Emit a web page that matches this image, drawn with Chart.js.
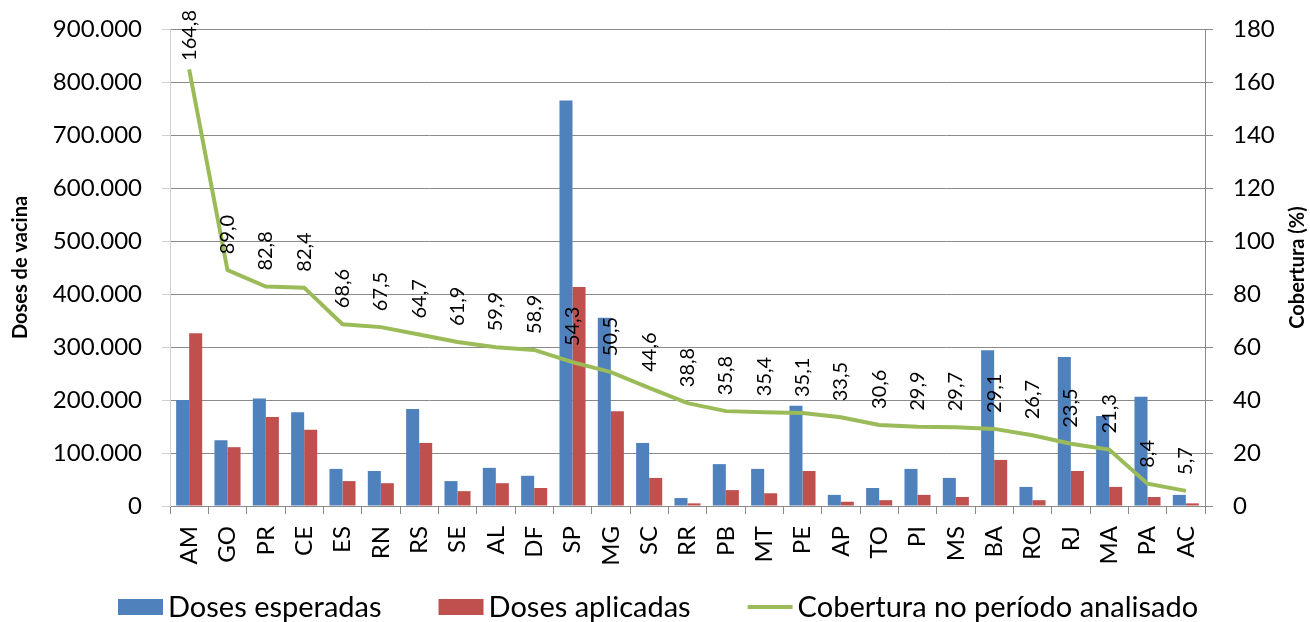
<!DOCTYPE html>
<html>
<head>
<meta charset="utf-8">
<script src="https://cdn.jsdelivr.net/npm/chart.js@4.4.1/dist/chart.umd.min.js"></script>
<style>
  html, body { margin: 0; padding: 0; background: #fff; }
  #wrap { width: 1310px; height: 622px; }
</style>
</head>
<body>
<div id="wrap"><canvas id="vacChart" width="1310" height="622"></canvas></div>
<script>
const estados = ['AM', 'GO', 'PR', 'CE', 'ES', 'RN', 'RS', 'SE', 'AL', 'DF', 'SP', 'MG', 'SC', 'RR',
    'PB', 'MT', 'PE', 'AP', 'TO', 'PI', 'MS', 'BA', 'RO', 'RJ', 'MA', 'PA', 'AC'];

const dosesEsperadas = [200000, 124000, 203000, 177000, 70000, 66000, 183000, 47000, 72000, 57000,
    765000, 355000, 119000, 15000, 79000, 70000, 189000, 21000, 34000, 70000, 53000, 294000,
    36000, 281000, 170000, 206000, 21000];

const dosesAplicadas = [326000, 111000, 168000, 144000, 47000, 43000, 119000, 28000, 43000, 34000,
    413000, 179000, 53000, 5000, 30000, 24000, 66000, 8000, 11000, 21000, 17000, 87000,
    11000, 66000, 36000, 17000, 5000];

const cobertura = [164.8, 89.0, 82.8, 82.4, 68.6, 67.5, 64.7, 61.9, 59.9, 58.9, 54.3, 50.5, 44.6, 38.8,
    35.8, 35.4, 35.1, 33.5, 30.6, 29.9, 29.7, 29.1, 26.7, 23.5, 21.3, 8.4, 5.7];

const FONT = 'Lato, "Open Sans", sans-serif';
const GRID = '#8a8a8a';

function milhar(v) {
    return String(v).replace(/\B(?=(\d{3})+(?!\d))/g, '.');
}

// rotated value labels, right axis title and the bottom legend
const extrasPlugin = {
    id: 'extras',
    afterDatasetsDraw(chart) {
        const meta = chart.getDatasetMeta(2);
        const ctx = chart.ctx;
        ctx.save();
        ctx.font = '20px ' + FONT;
        ctx.fillStyle = '#000';
        ctx.textAlign = 'left';
        ctx.textBaseline = 'middle';
        meta.data.forEach((pt, i) => {
            const txt = cobertura[i].toFixed(1).replace('.', ',');
            const w = ctx.measureText(txt).width;
            let y = pt.y - 16;
            if (y - w < 10) y = 10 + w;
            ctx.save();
            ctx.translate(pt.x, y);
            ctx.rotate(-Math.PI / 2);
            ctx.fillText(txt, 0, 0);
            ctx.restore();
        });
        ctx.restore();
    },
    afterDraw(chart) {
        const area = chart.chartArea;
        const ctx = chart.ctx;
        ctx.save();
        ctx.font = 'bold 20px ' + FONT;
        ctx.fillStyle = '#000';
        ctx.textAlign = 'center';
        ctx.textBaseline = 'middle';
        ctx.translate(1298, (area.top + area.bottom) / 2);
        ctx.rotate(-Math.PI / 2);
        ctx.fillText('Cobertura (%)', 0, 0);
        ctx.restore();

        // legend
        ctx.save();
        ctx.font = '29px ' + FONT;
        ctx.textAlign = 'left';
        ctx.textBaseline = 'middle';
        const cy = 607;
        let x = 118;
        chart.data.datasets.forEach(ds => {
            if (ds.type === 'line') {
                ctx.strokeStyle = ds.borderColor;
                ctx.lineWidth = 4;
                ctx.beginPath();
                ctx.moveTo(x, cy);
                ctx.lineTo(x + 45, cy);
                ctx.stroke();
            } else {
                ctx.fillStyle = ds.backgroundColor;
                ctx.fillRect(x, cy - 8, 45, 16);
            }
            x += 50;
            ctx.fillStyle = '#000';
            ctx.fillText(ds.label, x, cy + 1);
            x += ctx.measureText(ds.label).width + 57;
        });
        ctx.restore();
    }
};

new Chart(document.getElementById('vacChart'), {
    type: 'bar',
    data: {
        labels: estados,
        datasets: [
            {
                label: 'Doses esperadas',
                data: dosesEsperadas,
                backgroundColor: '#4F81BD',
                borderWidth: 0,
                yAxisID: 'y',
                order: 2
            },
            {
                label: 'Doses aplicadas',
                data: dosesAplicadas,
                backgroundColor: '#C0504D',
                borderWidth: 0,
                yAxisID: 'y',
                order: 2
            },
            {
                type: 'line',
                label: 'Cobertura no período analisado',
                data: cobertura,
                borderColor: '#9BBB59',
                backgroundColor: '#9BBB59',
                borderWidth: 4,
                pointRadius: 0,
                tension: 0,
                yAxisID: 'y1',
                order: 1
            }
        ]
    },
    options: {
        responsive: false,
        animation: false,
        categoryPercentage: 0.68,
        barPercentage: 1.0,
        layout: {
            padding: { top: 29, left: 0, right: 0, bottom: 0 }
        },
        plugins: {
            tooltip: { enabled: false },
            legend: { display: false }
        },
        scales: {
            x: {
                grid: {
                    drawOnChartArea: false,
                    color: GRID,
                    tickLength: 8
                },
                border: { color: GRID },
                ticks: {
                    autoSkip: false,
                    minRotation: 90,
                    maxRotation: 90,
                    padding: 12,
                    color: '#000',
                    font: { family: FONT, size: 24 }
                },
                afterFit(scale) { scale.height = 116; }
            },
            y: {
                position: 'left',
                min: 0,
                max: 900000,
                grid: {
                    color: GRID,
                    tickColor: '#d0d0d0',
                    tickLength: 8
                },
                border: { color: '#d0d0d0' },
                ticks: {
                    stepSize: 100000,
                    padding: 20,
                    color: '#000',
                    font: { family: FONT, size: 24 },
                    callback: (v) => milhar(v)
                },
                title: {
                    display: true,
                    text: 'Doses de vacina',
                    color: '#000',
                    font: { family: FONT, size: 20, weight: 'bold' },
                    padding: { top: 9, bottom: 0 }
                },
                afterFit(scale) {
                    scale.width = 170;
                    scale.paddingTop = 10;
                    scale.paddingBottom = 10;
                }
            },
            y1: {
                position: 'right',
                min: 0,
                max: 180,
                grid: {
                    drawOnChartArea: false,
                    color: GRID,
                    tickLength: 8
                },
                border: { color: GRID },
                ticks: {
                    stepSize: 20,
                    padding: 20,
                    color: '#000',
                    font: { family: FONT, size: 24 }
                },
                afterFit(scale) {
                    scale.width = 105;
                    scale.paddingTop = 10;
                    scale.paddingBottom = 10;
                }
            }
        }
    },
    plugins: [extrasPlugin]
});
</script>
</body>
</html>
